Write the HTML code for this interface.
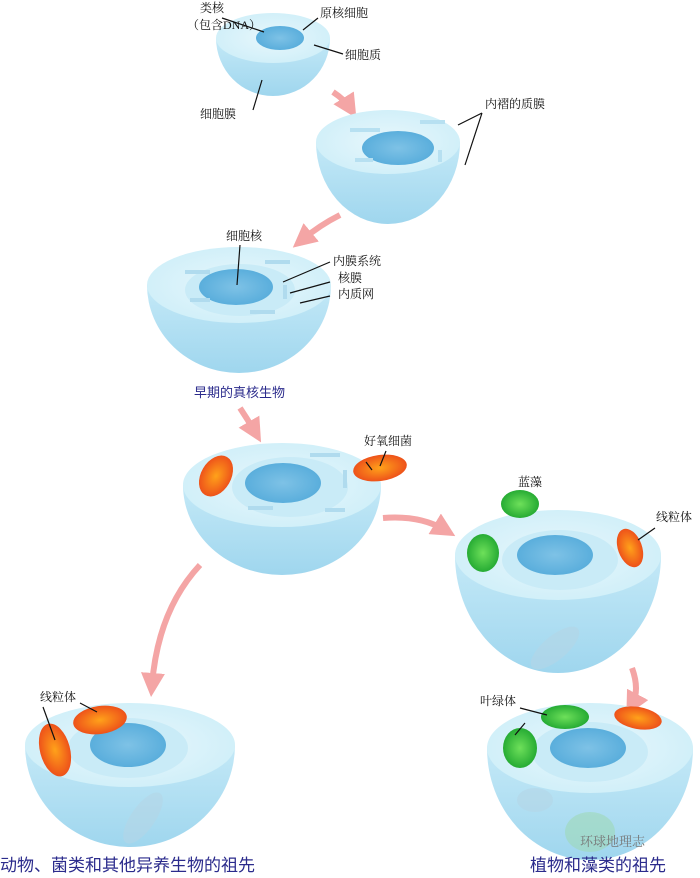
<!DOCTYPE html>
<html><head><meta charset="utf-8"><style>
html,body{margin:0;padding:0;background:#fff}
svg{display:block}
text{font-family:"Liberation Serif","Noto Serif CJK SC","Noto Sans CJK SC",serif;fill:#111}
.cap{fill:#2b2b8c;font-family:"Liberation Sans","Noto Sans CJK SC",sans-serif}
</style></head><body>
<svg width="700" height="878" viewBox="0 0 700 878" xmlns="http://www.w3.org/2000/svg">
<defs>
<linearGradient id="bowl" x1="0" y1="0" x2="0" y2="1">
<stop offset="0" stop-color="#c4e9f7"/><stop offset="1" stop-color="#9fd6ee"/></linearGradient>
<radialGradient id="top" cx="0.5" cy="0.5" r="0.6">
<stop offset="0" stop-color="#e8f7fc"/><stop offset="1" stop-color="#cdeef8"/></radialGradient>
<radialGradient id="nuc" cx="0.5" cy="0.5" r="0.5">
<stop offset="0" stop-color="#7ec2e6"/><stop offset="1" stop-color="#5aaedc"/></radialGradient>
<radialGradient id="mito" cx="0.5" cy="0.5" r="0.55">
<stop offset="0" stop-color="#ffa21a"/><stop offset="1" stop-color="#ec4a1a"/></radialGradient>
<radialGradient id="chl" cx="0.5" cy="0.5" r="0.55">
<stop offset="0" stop-color="#6ee05a"/><stop offset="1" stop-color="#1fa630"/></radialGradient>
<marker id="ah" viewBox="0 0 10 10" refX="5" refY="5" markerWidth="4" markerHeight="4" orient="auto">
<path d="M0,0 L10,5 L0,10 z" fill="#f4a5a5"/></marker>
</defs>

<g fill="none" stroke="#f4a5a5" stroke-width="6" marker-end="url(#ah)">
<path d="M333,92 Q345,100 350,108"/>
<path d="M340,215 Q320,225 302,240"/>
<path d="M240,408 Q248,420 255,432"/>
<path d="M383,518 Q420,515 445,530"/>
<path d="M200,565 Q158,610 152,685"/>
<path d="M632,668 Q640,690 632,705"/>
</g>

<g>
<path d="M216,38 A57,58 0 0 0 330,38 Z" fill="url(#bowl)"/>
<ellipse cx="273" cy="38" rx="57" ry="25" fill="url(#top)"/>
<ellipse cx="280" cy="38" rx="24" ry="12" fill="url(#nuc)"/>
</g>
<g>
<path d="M316,142 A72,82 0 0 0 460,142 Z" fill="url(#bowl)"/>
<ellipse cx="388" cy="142" rx="72" ry="32" fill="url(#top)"/>
<ellipse cx="398" cy="148" rx="36" ry="17" fill="url(#nuc)"/>
<path d="M350,130 h30 M420,122 h25 M440,150 v12 M355,160 h18" stroke="#b7e0f1" stroke-width="4" fill="none"/>
</g>
<g>
<path d="M147,285 A92,88 0 0 0 331,285 Z" fill="url(#bowl)"/>
<ellipse cx="239" cy="285" rx="92" ry="38" fill="url(#top)"/>
<ellipse cx="240" cy="290" rx="55" ry="26" fill="#c9ebf7"/>
<ellipse cx="236" cy="287" rx="37" ry="18" fill="url(#nuc)"/>
<path d="M185,272 h25 M265,262 h25 M285,285 v14 M190,300 h20 M250,312 h25" stroke="#b0dbee" stroke-width="4" fill="none"/>
</g>
<g>
<path d="M183,485 A99,90 0 0 0 381,485 Z" fill="url(#bowl)"/>
<ellipse cx="282" cy="485" rx="99" ry="42" fill="url(#top)"/>
<ellipse cx="290" cy="487" rx="58" ry="30" fill="#c9ebf7"/>
<ellipse cx="283" cy="483" rx="38" ry="20" fill="url(#nuc)"/>
<path d="M310,455 h30 M345,470 v18 M248,508 h25 M325,510 h20" stroke="#b0dbee" stroke-width="4" fill="none"/>
<ellipse cx="216" cy="476" rx="15" ry="22" transform="rotate(30 216 476)" fill="url(#mito)"/>
<ellipse cx="380" cy="468" rx="27" ry="13" transform="rotate(-8 380 468)" fill="url(#mito)"/>
</g>
<g>
<path d="M455,555 A103,118 0 0 0 661,555 Z" fill="url(#bowl)"/>
<ellipse cx="558" cy="555" rx="103" ry="45" fill="url(#top)"/>
<ellipse cx="560" cy="560" rx="58" ry="30" fill="#c9ebf7"/>
<ellipse cx="555" cy="555" rx="38" ry="20" fill="url(#nuc)"/>
<ellipse cx="555" cy="648" rx="30" ry="12" transform="rotate(-40 555 648)" fill="#b4d6e6" opacity="0.6"/>
<ellipse cx="520" cy="504" rx="19" ry="14" fill="url(#chl)"/>
<ellipse cx="483" cy="553" rx="16" ry="19" fill="url(#chl)"/>
<ellipse cx="630" cy="548" rx="12" ry="20" transform="rotate(-20 630 548)" fill="url(#mito)"/>
</g>
<g>
<path d="M25,745 A105,102 0 0 0 235,745 Z" fill="url(#bowl)"/>
<ellipse cx="130" cy="745" rx="105" ry="42" fill="url(#top)"/>
<ellipse cx="128" cy="748" rx="60" ry="30" fill="#c9ebf7"/>
<ellipse cx="128" cy="745" rx="38" ry="22" fill="url(#nuc)"/>
<ellipse cx="143" cy="818" rx="30" ry="12" transform="rotate(-55 143 818)" fill="#b4d6e6" opacity="0.6"/>
<ellipse cx="100" cy="720" rx="27" ry="14" transform="rotate(-8 100 720)" fill="url(#mito)"/>
<ellipse cx="55" cy="750" rx="15" ry="27" transform="rotate(-15 55 750)" fill="url(#mito)"/>
</g>
<g>
<path d="M487,748 A103,112 0 0 0 693,748 Z" fill="url(#bowl)"/>
<ellipse cx="590" cy="748" rx="103" ry="45" fill="url(#top)"/>
<ellipse cx="590" cy="752" rx="58" ry="30" fill="#c9ebf7"/>
<ellipse cx="588" cy="748" rx="38" ry="20" fill="url(#nuc)"/>
<ellipse cx="590" cy="832" rx="25" ry="20" fill="#9fd8b8" opacity="0.6"/>
<ellipse cx="535" cy="800" rx="18" ry="12" fill="#b4d6e6" opacity="0.6"/>
<ellipse cx="565" cy="717" rx="24" ry="12" fill="url(#chl)"/>
<ellipse cx="520" cy="748" rx="17" ry="20" fill="url(#chl)"/>
<ellipse cx="638" cy="718" rx="24" ry="11" transform="rotate(10 638 718)" fill="url(#mito)"/>
</g>

<g stroke="#111" stroke-width="1.2" fill="none">
<path d="M222,18 L264,32 M318,18 L303,30 M343,54 L314,45 M253,110 L262,80 M482,113 L458,125 M482,113 L465,165 M240,245 L237,285 M330,262 L283,282 M330,282 L290,293 M330,296 L300,303 M372,470 L366,462"/>
<path d="M386,451 L380,466 M655,528 L638,540 M43,707 L55,740 M80,703 L97,712 M525,723 L515,735 M520,708 L547,715"/>
</g>

<g font-size="12">
<text x="200" y="12">类核</text>
<text x="187" y="29">（包含DNA）</text>
<text x="320" y="17">原核细胞</text>
<text x="345" y="59">细胞质</text>
<text x="200" y="118">细胞膜</text>
<text x="485" y="108">内褶的质膜</text>
<text x="226" y="240">细胞核</text>
<text x="333" y="265">内膜系统</text>
<text x="338" y="282">核膜</text>
<text x="338" y="298">内质网</text>
<text x="364" y="445">好氧细菌</text>
<text x="518" y="486">蓝藻</text>
<text x="656" y="521">线粒体</text>
<text x="40" y="701">线粒体</text>
<text x="480" y="705">叶绿体</text>
</g>
<text class="cap" x="194" y="397" font-size="13">早期的真核生物</text>
<text class="cap" x="0" y="871" font-size="17">动物、菌类和其他异养生物的祖先</text>
<text class="cap" x="530" y="871" font-size="17">植物和藻类的祖先</text>
<text x="580" y="846" font-size="13" style="fill:#777">环球地理志</text>
</svg>
</body></html>
